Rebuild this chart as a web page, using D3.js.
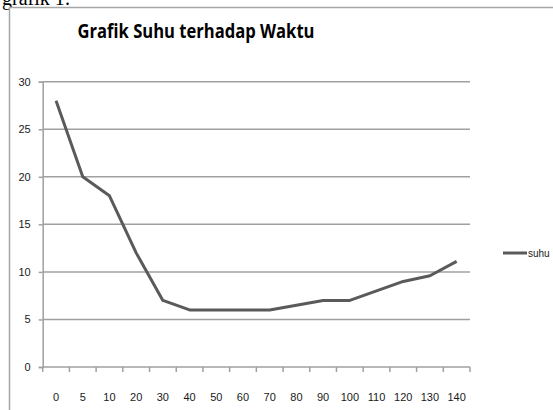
<!DOCTYPE html>
<html>
<head>
<meta charset="utf-8">
<script src="https://cdn.jsdelivr.net/npm/d3@7"></script>
<style>
  body { margin: 0; background: #fff; }
  svg { display: block; }
</style>
</head>
<body>
<div id="viz"></div>
<script>
// data
var waktu = ["0", "5", "10", "20", "30", "40", "50", "60", "70", "80", "90", "100", "110", "120", "130", "140"]
var suhu = [28, 20, 18, 12, 7, 6, 6, 6, 6, 6.5, 7, 7, 8, 9, 9.6, 11.1]
var yTicks = [0, 5, 10, 15, 20, 25, 30]

var width = 553, height = 410
var plot = { left: 42.7, right: 470, top: 81.7, bottom: 367 }

var svg = d3.select("#viz")
  .append("svg")
  .attr("width", width)
  .attr("height", height)

// caption of the document, cut off at the top
svg.append("text")
  .attr("x", 2)
  .attr("y", 5)
  .style("font-family", "Liberation Serif, serif")
  .style("font-size", "20px")
  .style("fill", "#000")
  .text("grafik 1:")

// chart frame
svg.append("rect")
  .attr("x", 9.5)
  .attr("y", 7.5)
  .attr("width", 560)
  .attr("height", 420)
  .style("fill", "#fff")
  .style("stroke", "#a6a6a6")
  .style("stroke-width", 1.5)

svg.append("text")
  .attr("x", 196)
  .attr("y", 38)
  .attr("text-anchor", "middle")
  .attr("textLength", 237)
  .attr("lengthAdjust", "spacingAndGlyphs")
  .style("font-family", "Liberation Sans Narrow, Open Sans, sans-serif")
  .style("font-weight", "bold")
  .style("font-size", "20px")
  .style("fill", "#000")
  .text("Grafik Suhu terhadap Waktu")

var x = d3.scaleBand()
  .domain(waktu)
  .range([plot.left, plot.right])

var y = d3.scaleLinear()
  .domain([0, 30])
  .range([plot.bottom, plot.top])

// gridlines
svg.append("g")
  .selectAll("line")
  .data(yTicks.filter(d => d > 0))
  .enter().append("line")
  .attr("x1", plot.left)
  .attr("x2", plot.right)
  .attr("y1", d => y(d))
  .attr("y2", d => y(d))
  .style("stroke", "#a0a0a0")
  .style("stroke-width", 1.5)

// y axis
var yAxis = svg.append("g")
  .attr("transform", "translate(" + plot.left + ",0)")
  .call(d3.axisLeft(y).tickValues(yTicks).tickSize(4).tickPadding(8))
yAxis.selectAll("line, path").style("stroke", "#a0a0a0").style("stroke-width", 1.5)
yAxis.selectAll("text")
  .style("font-family", "Liberation Sans Narrow, sans-serif")
  .style("font-size", "11px")
  .style("fill", "#1a1a1a")

// x axis, ticks between categories
var xAxis = svg.append("g")
  .attr("transform", "translate(0," + plot.bottom + ")")
xAxis.append("line")
  .attr("x1", plot.left)
  .attr("x2", plot.right)
  .style("stroke", "#a0a0a0")
  .style("stroke-width", 1.5)
xAxis.selectAll("line.tick")
  .data(waktu.concat(["end"]))
  .enter().append("line")
  .attr("class", "tick")
  .attr("x1", (d, i) => plot.left + i * x.step())
  .attr("x2", (d, i) => plot.left + i * x.step())
  .attr("y1", 0)
  .attr("y2", 5)
  .style("stroke", "#a0a0a0")
  .style("stroke-width", 1.5)
xAxis.selectAll("text")
  .data(waktu)
  .enter().append("text")
  .attr("x", d => x(d) + x.bandwidth() / 2)
  .attr("y", 34)
  .attr("text-anchor", "middle")
  .style("font-family", "Liberation Sans Narrow, sans-serif")
  .style("font-size", "11px")
  .style("fill", "#1a1a1a")
  .text(d => d)

// the series line
var line = d3.line()
  .x((d, i) => x(waktu[i]) + x.bandwidth() / 2)
  .y(d => y(d))

svg.append("path")
  .datum(suhu)
  .attr("d", line)
  .style("fill", "none")
  .style("stroke", "#5a5a5a")
  .style("stroke-width", 3)
  .style("stroke-linejoin", "round")

// legend
svg.append("line")
  .attr("x1", 503)
  .attr("x2", 527)
  .attr("y1", 253)
  .attr("y2", 253)
  .style("stroke", "#5a5a5a")
  .style("stroke-width", 3)
svg.append("text")
  .attr("x", 528)
  .attr("y", 257)
  .style("font-family", "Liberation Sans Narrow, sans-serif")
  .style("font-size", "10px")
  .style("fill", "#1a1a1a")
  .text("suhu")
</script>
</body>
</html>
